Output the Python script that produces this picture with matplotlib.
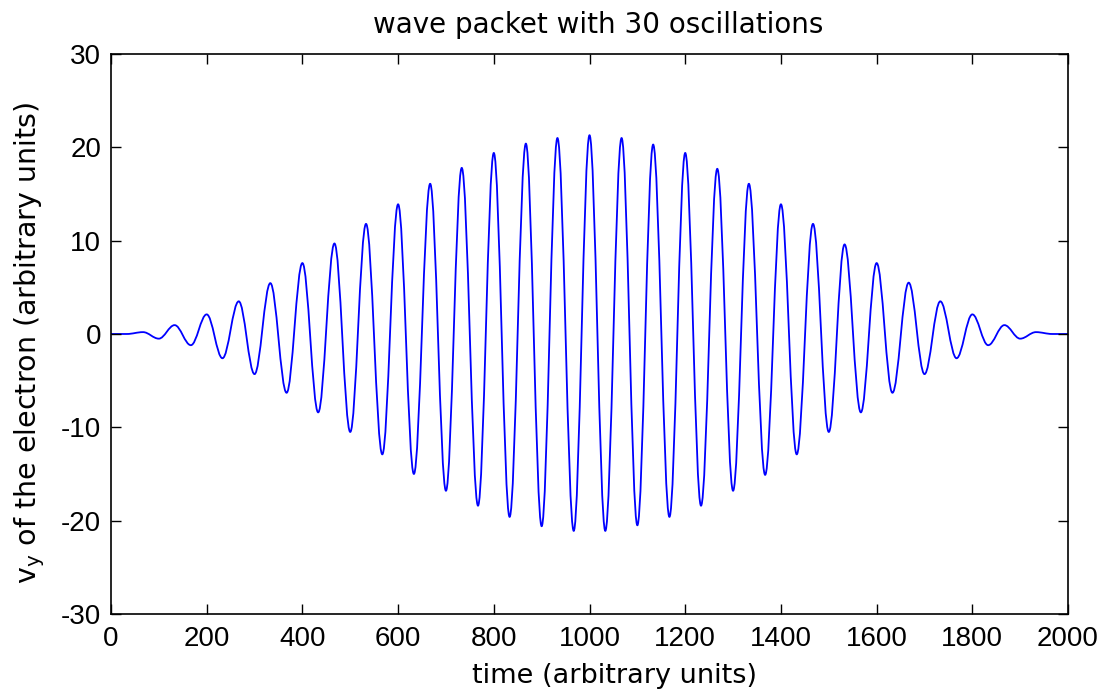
import matplotlib
matplotlib.use("Agg")
import matplotlib.pyplot as plt
from matplotlib.path import Path
from matplotlib.patches import PathPatch

# turning points of the wave packet
time_pts = [0, 33, 67, 100, 133, 167, 200, 233, 267, 300, 333, 367, 400, 433,
            467, 500, 533, 567, 600, 633, 667, 700, 733, 767, 800, 833, 867,
            900, 933, 967, 1000, 1033, 1067, 1100, 1133, 1167, 1200, 1233,
            1267, 1300, 1333, 1367, 1400, 1433, 1467, 1500, 1533, 1567, 1600,
            1633, 1667, 1700, 1733, 1767, 1800, 1833, 1867, 1900, 1933, 1967,
            2000]
vy_pts = [0.0, 0.0, 0.2, -0.5, 0.95, -1.2, 2.1, -2.6, 3.5, -4.3, 5.45, -6.3,
          7.6, -8.4, 9.7, -10.5, 11.8, -12.9, 13.9, -15.0, 16.1, -16.8, 17.8,
          -18.4, 19.4, -19.6, 20.4, -20.6, 21.0, -21.1, 21.3, -21.1, 21.0,
          -20.5, 20.3, -19.6, 19.4, -18.4, 17.7, -16.8, 16.1, -15.1, 13.9,
          -12.9, 11.8, -10.5, 9.6, -8.4, 7.6, -6.3, 5.5, -4.3, 3.5, -2.6, 2.1,
          -1.2, 0.95, -0.5, 0.2, 0.0, 0.0]

x_ticks = [0, 200, 400, 600, 800, 1000, 1200, 1400, 1600, 1800, 2000]
y_ticks = [-30, -20, -10, 0, 10, 20, 30]

plt.rcParams["font.family"] = ["DejaVu Sans"]
plt.rcParams["axes.unicode_minus"] = False
plt.rcParams["mathtext.fontset"] = "custom"
plt.rcParams["mathtext.rm"] = "DejaVu Sans"

fig = plt.figure(figsize=(11.02, 6.94), dpi=100)
ax = fig.add_axes([0.1007, 0.1153, 0.8685, 0.8069])

# smooth curve through the turning points: cubic segments with flat tangents
k = 0.3634
verts = [(time_pts[0], vy_pts[0])]
codes = [Path.MOVETO]
for i in range(len(time_pts) - 1):
    t0, t1 = time_pts[i], time_pts[i + 1]
    v0, v1 = vy_pts[i], vy_pts[i + 1]
    dt = t1 - t0
    verts += [(t0 + k * dt, v0), (t1 - k * dt, v1), (t1, v1)]
    codes += [Path.CURVE4] * 3
ax.add_patch(PathPatch(Path(verts, codes), fill=False, edgecolor="#0000ff",
                       linewidth=1.3, capstyle="butt", joinstyle="round"))

ax.set_xlim(0, 2000)
ax.set_ylim(-30, 30)
ax.set_xticks(x_ticks)
ax.set_yticks(y_ticks)
ax.tick_params(direction="in", length=7, width=1, top=True, right=True,
               labelsize=20)
ax.tick_params(axis="x", pad=9)
ax.tick_params(axis="y", pad=7)
for lbl in ax.get_xticklabels() + ax.get_yticklabels():
    lbl.set_family("Liberation Sans")
for s in ax.spines.values():
    s.set_linewidth(1.2)

ax.set_title("wave packet with 30 oscillations", fontsize=20, pad=15, x=0.509)
ax.set_xlabel("time (arbitrary units)", fontsize=19.5)
ax.xaxis.set_label_coords(0.526, -0.087)
ax.set_ylabel(r"$\mathregular{v_y}$ of the electron (arbitrary units)",
              fontsize=20.5)
ax.yaxis.set_label_coords(-0.067, 0.485)

fig.savefig("out.png", dpi=100)
